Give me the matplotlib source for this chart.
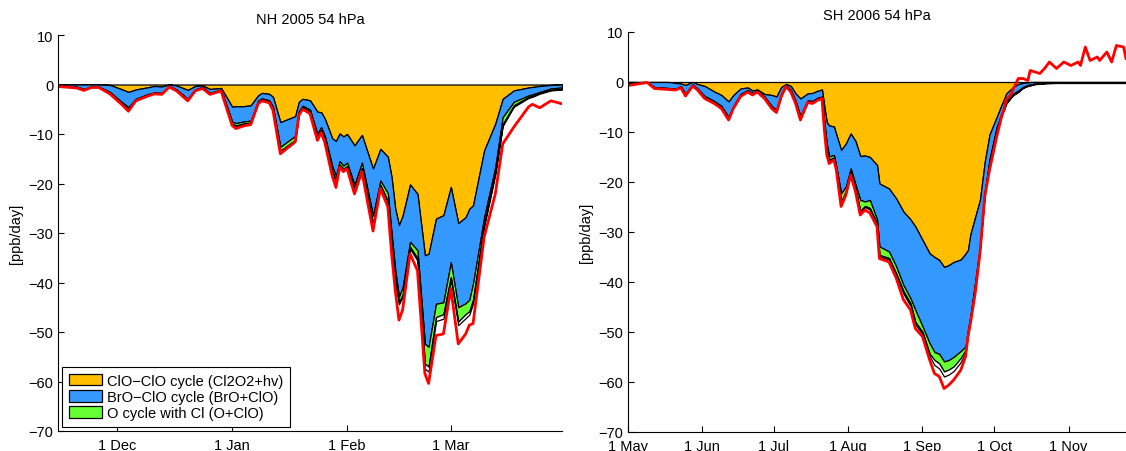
import numpy as np
import matplotlib
matplotlib.use('Agg')
import matplotlib.pyplot as plt
import matplotlib.dates as mdates

plt.rcParams['font.family'] = ['Liberation Sans', 'DejaVu Sans']
plt.rcParams['font.size'] = 10.5

# NH 2005 54 hPa: days since 15 Nov 2004
# lower edge of each stacked band [ppb/day], red line = total
nh_days = [0, 5, 7, 9, 11, 14, 17, 19, 21, 24, 26, 28, 30, 32, 35, 37, 39, 41, 44,
           47, 48, 50, 52, 54, 55, 57, 58, 60, 64, 65, 66, 68, 70, 71, 72, 74, 75,
           76, 77, 78, 80, 82, 85, 87, 89, 90, 91, 92, 93, 95, 97, 99, 100, 102,
           104, 106, 108, 110, 111, 112, 115, 118, 120, 123, 127, 128, 130, 133, 136]
nh_clo_clo = [0, 0, 0, 0, 0, -0.1, -0.9, -1.5, -1.0, -0.6, -0.3, -0.4, 0, -0.2, -1.1,
              -0.3, -0.2, -0.9, -0.7, -4.5, -4.4, -4.4, -4.2, -2.2, -1.7, -1.9, -2.5,
              -7.6, -6.4, -3.5, -2.9, -3.2, -5.5, -5.6, -6.9, -10.9, -11.4, -9.9, -10.5,
              -10.0, -12.3, -10.2, -17.0, -13.0, -14.6, -18.7, -25.1, -28.4, -26.5,
              -20.2, -22.1, -34.5, -34.2, -27.1, -26.4, -20.7, -28.0, -26.8, -25.1,
              -24.4, -13.3, -7.9, -2.9, -1.2, -0.6, -0.5, -0.3, -0.1, 0]
nh_bro_clo = [-0.2, -0.4, -0.9, -0.4, -0.4, -1.5, -3.4, -4.6, -2.9, -2.0, -1.6, -1.7,
              -0.3, -1.0, -2.9, -1.0, -0.5, -1.7, -1.0, -7.5, -7.8, -7.5, -7.3, -3.3,
              -2.8, -3.2, -4.5, -12.6, -10.4, -5.4, -4.3, -5.1, -10.0, -8.6, -10.4,
              -16.5, -18.5, -15.5, -16.4, -15.8, -20.3, -15.8, -26.5, -19.4, -22.0,
              -30.0, -37.5, -42.9, -41.0, -31.8, -33.5, -52.4, -53.0, -44.3, -44.0,
              -35.9, -45.0, -44.2, -43.5, -40.2, -26.8, -16.7, -6.6, -3.5, -2.2, -2.0,
              -1.5, -0.8, -0.6]
nh_o_cl = [-0.3, -0.5, -1.0, -0.45, -0.45, -1.6, -3.6, -5.0, -3.0, -2.1, -1.7, -1.8,
           -0.35, -1.1, -3.0, -1.1, -0.6, -1.8, -1.1, -7.9, -8.3, -7.9, -7.7, -3.6,
           -3.0, -3.4, -4.8, -13.4, -11.2, -5.8, -4.6, -5.5, -10.6, -9.2, -11.0,
           -17.5, -19.5, -16.2, -17.0, -16.5, -21.3, -16.9, -28.2, -20.3, -23.6,
           -32.0, -39.6, -44.0, -42.5, -32.8, -35.1, -56.4, -57.0, -47.0, -46.4,
           -38.9, -47.9, -46.4, -45.8, -43.5, -28.2, -17.7, -8.0, -4.2, -2.5, -2.3,
           -1.7, -1.1, -0.9]
nh_other = [-0.35, -0.55, -1.05, -0.5, -0.5, -1.65, -3.65, -5.1, -3.05, -2.15, -1.75,
            -1.85, -0.4, -1.15, -3.05, -1.15, -0.65, -1.85, -1.15, -8.0, -8.4, -8.0,
            -7.8, -3.65, -3.05, -3.45, -4.85, -13.5, -11.3, -5.85, -4.65, -5.55,
            -10.7, -9.3, -11.1, -17.6, -19.7, -16.3, -17.1, -16.6, -21.4, -17.0,
            -28.4, -20.4, -23.8, -32.3, -39.9, -44.4, -42.9, -33.2, -35.6, -57.4,
            -58.0, -47.8, -47.3, -39.5, -48.6, -47.2, -46.5, -44.2, -28.7, -18.2,
            -8.4, -4.5, -2.7, -2.5, -1.85, -1.2, -1.0]
nh_total = [-0.4, -0.7, -1.2, -0.6, -0.6, -1.9, -3.9, -5.4, -3.3, -2.4, -1.9, -2.0,
            -0.5, -1.3, -3.3, -1.3, -0.8, -2.0, -1.3, -8.3, -8.9, -8.4, -8.1, -3.9,
            -3.3, -3.7, -5.2, -14.0, -11.6, -6.2, -5.0, -5.9, -11.3, -9.7, -11.7,
            -18.5, -20.8, -16.7, -17.6, -17.0, -22.1, -17.6, -29.6, -21.0, -24.7,
            -34.0, -41.6, -47.6, -45.5, -34.2, -37.6, -58.4, -60.4, -50.7, -50.4,
            -41.2, -52.4, -50.4, -48.6, -48.3, -30.8, -22.1, -12.0, -8.6, -4.5, -4.0,
            -4.7, -3.3, -3.9]

# SH 2006 54 hPa: days since 1 May 2006
sh_days = [0, 4, 8, 11, 17, 20, 22, 24, 27, 29, 32, 36, 39, 42, 44, 47, 50, 52, 54,
           57, 60, 62, 64, 66, 68, 70, 72, 75, 77, 79, 81, 82, 83, 84, 86, 87, 89,
           91, 93, 95, 97, 99, 101, 104, 105, 109, 112, 115, 118, 120, 123, 126,
           128, 130, 132, 134, 136, 139, 141, 142, 143, 145, 147, 149, 151, 154,
           156, 157, 158, 160, 161, 163, 165, 167, 168, 170, 172, 174, 176, 179,
           182, 185, 188, 189, 191, 193, 196, 197, 200, 202, 204, 207, 208]
sh_clo_clo = [0, 0, 0, 0, 0, -0.2, -0.3, -0.6, 0, -0.4, -0.8, -1.9, -2.6, -3.9, -2.6,
              -1.3, -1.1, -1.7, -1.5, -2.4, -2.6, -2.9, -1.0, -0.4, -0.8, -2.3, -3.3,
              -2.3, -2.2, -1.8, -1.5, -4.9, -8.0, -8.7, -8.9, -10.5, -13.6, -12.3,
              -10.3, -11.8, -14.8, -14.7, -15.0, -16.6, -20.3, -21.3, -23.3, -25.9,
              -27.5, -28.9, -31.6, -34.3, -35.0, -35.6, -37.0, -36.6, -36.0, -35.5,
              -34.3, -33.6, -30.5, -27.0, -23.6, -16.0, -10.5, -7.0, -4.6, -3.5,
              -2.3, -1.4, -1.0, -0.4, -0.2, -0.1, 0, 0, 0, 0, 0, 0, 0, 0, 0, 0, 0,
              0, 0, 0, 0, 0, 0, 0, 0]
sh_bro_clo = [-0.3, -0.1, 0, -1.0, -1.2, -1.3, -0.8, -2.3, -0.5, -1.3, -2.8, -3.8,
              -4.8, -7.0, -4.8, -2.4, -1.6, -2.2, -1.7, -2.9, -4.8, -5.6, -2.4, -0.6,
              -1.6, -3.8, -6.8, -3.7, -3.8, -3.2, -2.9, -8.0, -12.3, -14.9, -14.6,
              -16.9, -22.3, -20.9, -17.3, -20.5, -23.6, -23.9, -23.6, -27.5, -32.9,
              -33.9, -36.9, -40.6, -43.3, -45.6, -48.9, -52.3, -54.0, -54.4, -55.9,
              -55.6, -55.0, -53.8, -52.9, -49.6, -46.9, -40.0, -33.0, -22.0, -15.5,
              -9.0, -6.3, -5.3, -4.0, -2.8, -2.3, -1.7, -1.0, -0.6, -0.5, -0.3, -0.2,
              -0.15, -0.1, -0.1, -0.1, -0.1, -0.1, -0.1, -0.1, -0.1, -0.1, -0.1,
              -0.1, -0.1, -0.1, -0.1, -0.1]
sh_o_cl = [-0.4, -0.2, -0.02, -1.1, -1.3, -1.4, -0.9, -2.5, -0.6, -1.4, -3.0, -4.0,
           -5.0, -7.3, -5.0, -2.6, -1.8, -2.4, -1.8, -3.1, -5.0, -5.8, -2.6, -0.7,
           -1.8, -4.0, -7.2, -3.9, -4.0, -3.4, -3.1, -8.5, -13.3, -15.5, -15.1,
           -17.2, -24.0, -21.8, -17.9, -21.2, -25.8, -24.8, -25.2, -28.3, -34.6,
           -35.2, -38.3, -41.8, -44.3, -48.0, -50.0, -54.4, -55.6, -56.3, -57.9,
           -57.5, -56.9, -55.2, -53.6, -50.3, -47.3, -40.4, -33.3, -22.3, -15.8,
           -9.3, -6.5, -5.5, -4.2, -3.0, -2.5, -1.9, -1.1, -0.7, -0.6, -0.35, -0.25,
           -0.2, -0.15, -0.15, -0.15, -0.15, -0.15, -0.15, -0.15, -0.15, -0.15,
           -0.15, -0.15, -0.15, -0.15, -0.15, -0.15]
sh_other = [-0.5, -0.25, -0.05, -1.15, -1.35, -1.45, -0.95, -2.55, -0.65, -1.45,
            -3.05, -4.05, -5.05, -7.35, -5.05, -2.65, -1.85, -2.45, -1.85, -3.15,
            -5.05, -5.85, -2.65, -0.75, -1.85, -4.05, -7.3, -3.95, -4.05, -3.45,
            -3.15, -8.6, -13.5, -15.6, -15.2, -17.3, -24.2, -22.0, -18.0, -21.3,
            -26.0, -25.0, -25.5, -28.5, -34.9, -35.5, -38.7, -42.3, -44.8, -48.5,
            -50.4, -54.9, -56.6, -57.3, -58.9, -58.5, -57.8, -56.0, -54.1, -50.6,
            -47.6, -40.7, -33.5, -22.5, -16.0, -9.5, -6.7, -5.6, -4.3, -3.1, -2.6,
            -2.0, -1.2, -0.8, -0.7, -0.45, -0.35, -0.3, -0.25, -0.2, -0.2, -0.2,
            -0.2, -0.2, -0.2, -0.2, -0.2, -0.2, -0.2, -0.2, -0.2, -0.2, -0.2]
sh_total = [-0.7, -0.4, -0.1, -1.3, -1.5, -1.6, -1.1, -2.8, -0.8, -1.6, -3.3, -4.3,
            -5.3, -7.6, -5.3, -2.9, -2.0, -2.6, -2.0, -3.3, -5.3, -6.1, -2.9, -0.9,
            -2.0, -4.3, -7.6, -4.1, -4.3, -3.7, -3.3, -9.5, -14.5, -16.3, -15.6,
            -17.6, -24.9, -22.6, -18.6, -21.9, -26.6, -25.6, -26.2, -28.9, -35.3,
            -36.0, -39.2, -43.5, -45.6, -49.3, -50.9, -55.6, -58.3, -58.9, -61.3,
            -60.6, -59.6, -57.6, -54.9, -50.9, -48.3, -42.3, -34.3, -22.9, -17.6,
            -10.9, -7.0, -5.5, -3.5, -2.5, -1.3, 0.7, 0.7, 0.3, 2.3, 2.0, 1.7, 2.7,
            4.0, 2.7, 4.0, 3.3, 4.0, 3.3, 7.0, 4.3, 5.0, 4.3, 6.0, 4.0, 7.3, 7.0, 4.7]

labels = ['ClO\u2212ClO cycle (Cl2O2+hv)', 'BrO\u2212ClO cycle (BrO+ClO)',
          'O cycle with Cl (O+ClO)']
colors = ['#FFBF00', '#3399FF', '#66FF33', 'white']

fig = plt.figure(figsize=(11.26, 4.52), dpi=100)
ax1 = fig.add_axes([58 / 1126, 20 / 452, 504 / 1126, 396 / 452])
ax2 = fig.add_axes([628 / 1126, 19 / 452, 498 / 1126, 400 / 452])

panels = [
    (ax1, '2004-11-15', 136, nh_days, nh_clo_clo, nh_bro_clo, nh_o_cl, nh_other, nh_total,
     'NH 2005 54 hPa', ['2004-12-01', '2005-01-01', '2005-02-01', '2005-03-01']),
    (ax2, '2006-05-01', 208, sh_days, sh_clo_clo, sh_bro_clo, sh_o_cl, sh_other, sh_total,
     'SH 2006 54 hPa', ['2006-05-01', '2006-06-01', '2006-07-01', '2006-08-01',
                        '2006-09-01', '2006-10-01', '2006-11-01']),
]

for ax, start, ndays, days, c1, c2, c3, c4, tot, title, ticks in panels:
    t0 = np.datetime64(start)
    x = t0 + np.array(days).astype('timedelta64[D]')
    edges = [np.zeros(len(days)), c1, c2, c3, c4]
    for i in range(4):
        lab = labels[i] if i < 3 else None
        ax.fill_between(x, edges[i], edges[i + 1], facecolor=colors[i],
                        edgecolor='black', linewidth=0.9, label=lab)
    ax.plot(x, tot, color='red', linewidth=2.0)

    ax.set_xlim(t0, t0 + np.timedelta64(ndays, 'D'))
    ax.set_ylim(-70, 10)
    ax.set_yticks(range(-70, 11, 10))
    tk = [np.datetime64(t) for t in ticks]
    ax.set_xticks(tk)
    ax.xaxis.set_major_formatter(mdates.DateFormatter('%-d %b'))
    ax.tick_params(direction='in', length=4, width=0.8, labelsize=10.5)
    ax.tick_params(axis='x', pad=5)
    ax.spines['top'].set_visible(False)
    ax.spines['right'].set_visible(False)
    ax.set_title(title, fontsize=10.5, pad=9)
    ax.set_ylabel('[ppb/day]', fontsize=10.5)

leg = ax1.legend(loc='lower left', fancybox=False, edgecolor='black', framealpha=1,
                 borderaxespad=0.3, handlelength=2.3, handleheight=0.85,
                 labelspacing=0.15, borderpad=0.45, handletextpad=0.3, fontsize=10.5)
leg.get_frame().set_linewidth(0.8)

fig.savefig('out.png', dpi=100)
